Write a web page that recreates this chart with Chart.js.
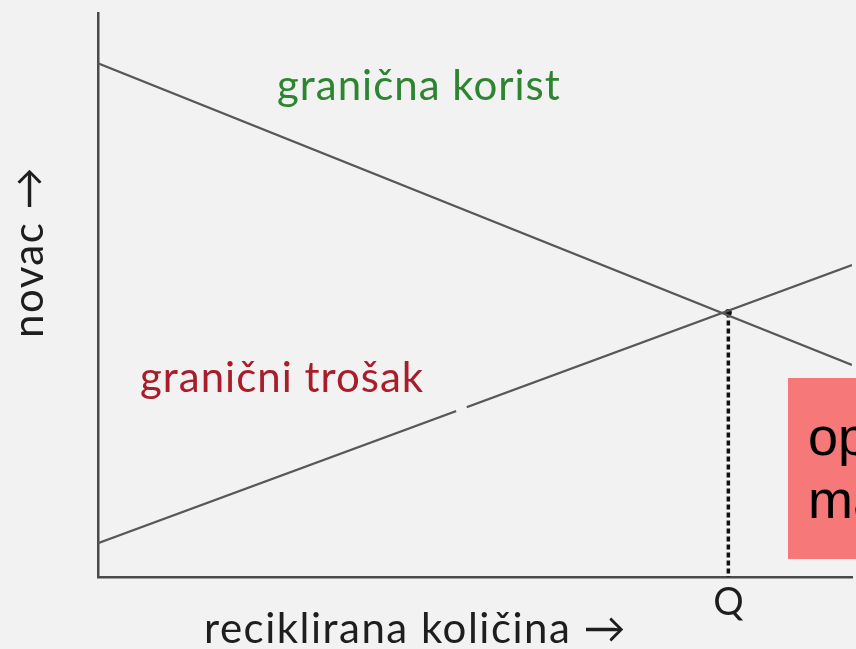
<!DOCTYPE html>
<html>
<head>
<meta charset="utf-8">
<script src="https://cdn.jsdelivr.net/npm/chart.js@4/dist/chart.umd.min.js"></script>
<style>
  html, body { margin: 0; padding: 0; background: #f2f2f2; }
  #wrap { width: 856px; height: 649px; }
</style>
</head>
<body>
<div id="wrap"><canvas id="chart" width="856" height="649"></canvas></div>
<script>
// quantity on the x axis, money on the y axis (0-100 units)
var quantity = [0, 100];
var benefit = [91.1, 37.6];   // granična korist
var cost = [6.0, 55.3];       // granični trošak
var qValue = 83.6;            // Q, where the two lines cross
var qMoney = 46.9;
var tickLabels = ["Q"];

var bg = "#f2f2f2";

function pts(xs, ys) {
  return xs.map(function (x, i) { return { x: x, y: ys[i] }; });
}

var labelsPlugin = {
  id: "labels",
  afterDatasetsDraw: function (chart) {
    var ctx = chart.ctx;
    var xs = chart.scales.x, ys = chart.scales.y;
    // small break in the cost line
    ctx.save();
    ctx.strokeStyle = bg;
    ctx.lineWidth = 5;
    ctx.beginPath();
    var a = 47.5, b = 48.9;
    ctx.moveTo(xs.getPixelForValue(a), ys.getPixelForValue(cost[0] + (cost[1] - cost[0]) * a / 100));
    ctx.lineTo(xs.getPixelForValue(b), ys.getPixelForValue(cost[0] + (cost[1] - cost[0]) * b / 100));
    ctx.stroke();
    ctx.restore();
  },
  afterDraw: function (chart) {
    var ctx = chart.ctx;
    ctx.save();
    ctx.textBaseline = "alphabetic";
    ctx.textAlign = "left";

    ctx.font = "42px Lato";
    ctx.letterSpacing = "1px";
    ctx.fillStyle = "#2e8531";
    ctx.fillText("granična korist", 277, 100);

    ctx.fillStyle = "#a91d2a";
    ctx.fillText("granični trošak", 140, 392);

    ctx.fillStyle = "#1e1e1e";
    ctx.letterSpacing = "1.5px";
    ctx.fillText("reciklirana količina \u2192", 204, 643);

    ctx.save();
    ctx.translate(43, 338);
    ctx.rotate(-Math.PI / 2);
    ctx.fillText("novac \u2192", 0, 0);
    ctx.restore();

    // pink note box, cut off by the right edge
    ctx.letterSpacing = "0px";
    ctx.fillStyle = "#f77878";
    ctx.fillRect(788, 378, 80, 181);
    ctx.fillStyle = "#000000";
    ctx.font = "54px 'Liberation Sans'";
    ctx.fillText("op", 808, 455);
    ctx.fillText("ma", 808, 518);
    ctx.restore();
  }
};

new Chart(document.getElementById("chart").getContext("2d"), {
  type: "scatter",
  data: {
    datasets: [
      {
        label: "granična korist",
        data: pts(quantity, benefit),
        showLine: true,
        borderColor: "#585858",
        borderWidth: 2.2,
        pointRadius: 0,
      },
      {
        label: "granični trošak",
        data: pts(quantity, cost),
        showLine: true,
        borderColor: "#585858",
        borderWidth: 2.2,
        pointRadius: 0,
      },
      {
        label: "Q",
        data: [{ x: qValue, y: qMoney }, { x: qValue, y: 0 }],
        showLine: true,
        borderColor: "#111111",
        borderWidth: 3.5,
        borderDash: [5, 3],
        pointRadius: [3.5, 0],
        pointBackgroundColor: "#111111",
        pointBorderWidth: 0,
      },
    ],
  },
  options: {
    responsive: false,
    animation: false,
    layout: { padding: { left: 98, top: 13, right: 0, bottom: 0 } },
    plugins: { legend: { display: false }, tooltip: { enabled: false } },
    scales: {
      x: {
        type: "linear",
        min: 0,
        max: 100,
        afterFit: function (s) { s.height = 72; },
        afterBuildTicks: function (s) { s.ticks = [{ value: qValue }]; },
        grid: { display: false, drawTicks: false },
        border: { display: true, color: "#4a4a4a", width: 2.5 },
        ticks: {
          padding: 3,
          color: "#1e1e1e",
          font: { family: "Lato", size: 38 },
          maxRotation: 0,
          autoSkip: false,
          callback: function () { return tickLabels[0]; },
        },
      },
      y: {
        type: "linear",
        min: 0,
        max: 100,
        afterFit: function (s) { s.width = 0; },
        grid: { display: false, drawTicks: false },
        border: { display: true, color: "#4a4a4a", width: 2.5 },
        ticks: { display: false },
      },
    },
  },
  plugins: [labelsPlugin],
});
</script>
</body>
</html>
